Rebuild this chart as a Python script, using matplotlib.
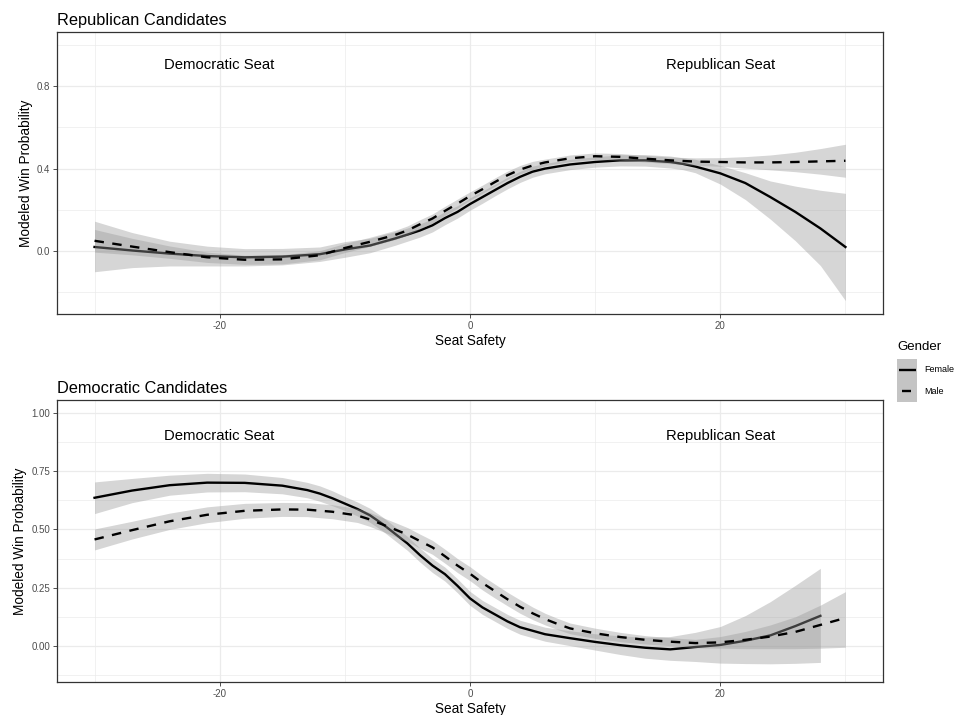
import numpy as np
import matplotlib
matplotlib.use("Agg")
import matplotlib.pyplot as plt
from matplotlib.patches import Rectangle

plt.rcParams["font.family"] = ["Liberation Sans", "DejaVu Sans"]

# Republican candidates panel
rep_x = [-30, -27, -24, -21, -18, -15, -12, -10, -8, -6, -5, -4, -3, -2, -1, 0, 1, 2, 3, 4, 5, 6, 8, 10,
         12, 14, 16, 17, 18, 20, 22, 24, 26, 28, 30]
rep_f_fit = [0.02, 0.003, -0.012, -0.024, -0.03, -0.027, -0.015, 0.008, 0.027, 0.061, 0.08, 0.1, 0.125, 0.16,
             0.19, 0.228, 0.262, 0.296, 0.33, 0.36, 0.385, 0.40, 0.42, 0.432, 0.44, 0.44, 0.432, 0.423, 0.41,
             0.377, 0.33, 0.262, 0.19, 0.11, 0.02]
rep_f_lo = [-0.10, -0.08, -0.072, -0.072, -0.072, -0.067, -0.05, -0.03, -0.008, 0.028, 0.048, 0.068, 0.093,
            0.128, 0.16, 0.198, 0.232, 0.268, 0.302, 0.333, 0.358, 0.375, 0.395, 0.407, 0.413, 0.412, 0.403,
            0.395, 0.38, 0.325, 0.25, 0.155, 0.05, -0.07, -0.24]
rep_f_hi = [0.145, 0.09, 0.048, 0.024, 0.012, 0.013, 0.02, 0.046, 0.062, 0.094, 0.112, 0.132, 0.157, 0.192,
            0.22, 0.258, 0.292, 0.324, 0.358, 0.387, 0.412, 0.425, 0.445, 0.457, 0.467, 0.468, 0.461, 0.452,
            0.445, 0.415, 0.38, 0.34, 0.315, 0.295, 0.28]
rep_m_fit = [0.05, 0.022, -0.005, -0.03, -0.042, -0.04, -0.02, 0.015, 0.045, 0.078, 0.1, 0.13, 0.158, 0.195,
             0.23, 0.267, 0.30, 0.335, 0.368, 0.395, 0.415, 0.43, 0.45, 0.46, 0.457, 0.448, 0.44, 0.437, 0.434,
             0.432, 0.43, 0.43, 0.432, 0.435, 0.438]
rep_m_lo = [-0.005, -0.018, -0.035, -0.055, -0.064, -0.062, -0.042, -0.007, 0.023, 0.056, 0.078, 0.108, 0.136,
            0.173, 0.208, 0.247, 0.28, 0.315, 0.348, 0.375, 0.395, 0.414, 0.434, 0.444, 0.441, 0.432, 0.424,
            0.42, 0.416, 0.411, 0.402, 0.394, 0.385, 0.373, 0.358]
rep_m_hi = [0.105, 0.062, 0.025, -0.005, -0.02, -0.018, 0.002, 0.037, 0.067, 0.10, 0.122, 0.152, 0.18, 0.217,
            0.252, 0.287, 0.32, 0.355, 0.388, 0.415, 0.435, 0.446, 0.466, 0.476, 0.473, 0.464, 0.456, 0.454,
            0.452, 0.453, 0.458, 0.466, 0.479, 0.497, 0.518]

# Democratic candidates panel
dem_f_x = [-30, -27, -24, -21, -18, -15, -13, -12, -11, -10, -9, -8, -7, -6, -5, -4, -3, -2, -1, 0, 1, 2, 3,
           4, 6, 8, 10, 12, 14, 16, 18, 20, 22, 24, 26, 28]
dem_f_fit = [0.636, 0.667, 0.69, 0.701, 0.70, 0.688, 0.669, 0.654, 0.634, 0.611, 0.588, 0.561, 0.524, 0.482,
             0.44, 0.39, 0.345, 0.308, 0.258, 0.204, 0.165, 0.135, 0.105, 0.08, 0.05, 0.033, 0.017, 0.003,
             -0.008, -0.015, -0.005, 0.004, 0.022, 0.045, 0.085, 0.129]
dem_f_lo = [0.568, 0.615, 0.647, 0.661, 0.662, 0.653, 0.636, 0.621, 0.602, 0.581, 0.558, 0.531, 0.494, 0.452,
            0.41, 0.36, 0.315, 0.278, 0.228, 0.174, 0.135, 0.105, 0.075, 0.05, 0.02, 0.001, -0.018, -0.037,
            -0.053, -0.062, -0.067, -0.074, -0.076, -0.077, -0.075, -0.071]
dem_f_hi = [0.704, 0.719, 0.733, 0.741, 0.738, 0.723, 0.702, 0.687, 0.666, 0.641, 0.618, 0.591, 0.554, 0.512,
            0.47, 0.42, 0.375, 0.338, 0.288, 0.234, 0.195, 0.165, 0.135, 0.11, 0.08, 0.065, 0.052, 0.043,
            0.037, 0.04, 0.058, 0.083, 0.13, 0.19, 0.26, 0.333]
dem_m_x = [-30, -27, -24, -21, -18, -15, -13, -11, -9, -8, -6, -5, -4, -3, -2, -1, 0, 1, 2, 3, 4, 5, 6, 7,
           8, 10, 12, 14, 16, 18, 20, 22, 24, 26, 28, 30]
dem_m_fit = [0.457, 0.497, 0.535, 0.563, 0.58, 0.586, 0.585, 0.576, 0.56, 0.543, 0.50, 0.478, 0.45, 0.423,
             0.385, 0.345, 0.31, 0.27, 0.235, 0.20, 0.168, 0.14, 0.115, 0.094, 0.075, 0.054, 0.038, 0.026,
             0.018, 0.012, 0.015, 0.026, 0.04, 0.06, 0.09, 0.12]
dem_m_lo = [0.412, 0.459, 0.50, 0.529, 0.548, 0.556, 0.555, 0.546, 0.53, 0.513, 0.47, 0.448, 0.42, 0.393,
            0.355, 0.315, 0.28, 0.24, 0.205, 0.172, 0.14, 0.113, 0.09, 0.07, 0.052, 0.032, 0.018, 0.008,
            0.001, -0.008, -0.01, -0.012, -0.012, -0.012, -0.01, -0.006]
dem_m_hi = [0.502, 0.535, 0.57, 0.597, 0.612, 0.616, 0.615, 0.606, 0.59, 0.573, 0.53, 0.508, 0.48, 0.453,
            0.415, 0.375, 0.34, 0.30, 0.265, 0.23, 0.198, 0.167, 0.14, 0.118, 0.098, 0.076, 0.058, 0.044,
            0.035, 0.028, 0.04, 0.062, 0.09, 0.125, 0.175, 0.233]

genders = ["Female", "Male"]

dash = (0, (4, 3.6))
band = dict(color="#999999", alpha=0.4, linewidth=0)
tick_col = "#4d4d4d"

fig = plt.figure(figsize=(9.61, 7.15), dpi=100)
ax1 = fig.add_axes([0.0593, 0.5608, 0.8595, 0.3944])
ax2 = fig.add_axes([0.0593, 0.0462, 0.8595, 0.3944])


def style(ax, yticks, ylabels, yminor, ylim, title):
    ax.set_xlim(-33, 33)
    ax.set_ylim(*ylim)
    ax.set_xticks([-20, 0, 20])
    ax.set_xticklabels(["-20", "0", "20"])
    ax.set_xticks([-30, -10, 10, 30], minor=True)
    ax.set_yticks(yticks)
    ax.set_yticklabels(ylabels)
    ax.set_yticks(yminor, minor=True)
    ax.grid(which="major", color="#ebebeb", lw=0.9)
    ax.grid(which="minor", color="#ebebeb", lw=0.5)
    ax.set_axisbelow(True)
    ax.tick_params(which="major", length=3, width=0.6, color="#333333", labelsize=7, labelcolor=tick_col, pad=2)
    ax.tick_params(which="minor", length=0)
    for s in ax.spines.values():
        s.set_color("#333333")
        s.set_linewidth(0.9)
    ax.set_xlabel("Seat Safety", fontsize=9.8, labelpad=2)
    ax.set_ylabel("Modeled Win Probability", fontsize=9.8, labelpad=3)
    ax.set_title(title, loc="left", fontsize=11.8, pad=5)
    ax.text(-20, 0.9, "Democratic Seat", ha="center", va="center", fontsize=10.7)
    ax.text(20, 0.9, "Republican Seat", ha="center", va="center", fontsize=10.7)


# top panel
ax1.fill_between(rep_x, rep_f_lo, rep_f_hi, zorder=2, **band)
ax1.plot(rep_x, rep_f_fit, color="black", lw=1.7, zorder=3)
ax1.fill_between(rep_x, rep_m_lo, rep_m_hi, zorder=4, **band)
ax1.plot(rep_x, rep_m_fit, color="black", lw=1.7, ls=dash, dash_capstyle="butt", zorder=5)
style(ax1, [0.0, 0.4, 0.8], ["0.0", "0.4", "0.8"], [-0.2, 0.2, 0.6, 1.0], (-0.305, 1.062),
      "Republican Candidates")

# bottom panel
ax2.fill_between(dem_f_x, dem_f_lo, dem_f_hi, zorder=2, **band)
ax2.plot(dem_f_x, dem_f_fit, color="black", lw=1.7, zorder=3)
ax2.fill_between(dem_m_x, dem_m_lo, dem_m_hi, zorder=4, **band)
ax2.plot(dem_m_x, dem_m_fit, color="black", lw=1.7, ls=dash, dash_capstyle="butt", zorder=5)
style(ax2, [0.0, 0.25, 0.5, 0.75, 1.0], ["0.00", "0.25", "0.50", "0.75", "1.00"],
      [-0.125, 0.125, 0.375, 0.625, 0.875], (-0.155, 1.056), "Democratic Candidates")

# legend, drawn in a small axes measured in figure pixels
lax = fig.add_axes([885 / 961, 1 - 412 / 715, 76 / 961, 77 / 715])
lax.set_xlim(885, 961)
lax.set_ylim(412, 335)
lax.axis("off")
lax.text(897, 347, "Gender", fontsize=9.5, va="center", ha="left")
key_len = [(898.5, 915.5), (901.5, 910.5)]
for i, (name, (x0, x1)) in enumerate(zip(genders, key_len)):
    y0 = 359 + i * 21.5
    lax.add_patch(Rectangle((897, y0), 20, 21.5, facecolor="#c4c4c4", edgecolor="none"))
    lax.plot([x0, x1], [y0 + 10.75] * 2, color="black", lw=1.7, solid_capstyle="butt")
    lax.text(924, y0 + 10.75, name, fontsize=6.5, va="center", ha="left")

fig.savefig("out.png", dpi=100)
